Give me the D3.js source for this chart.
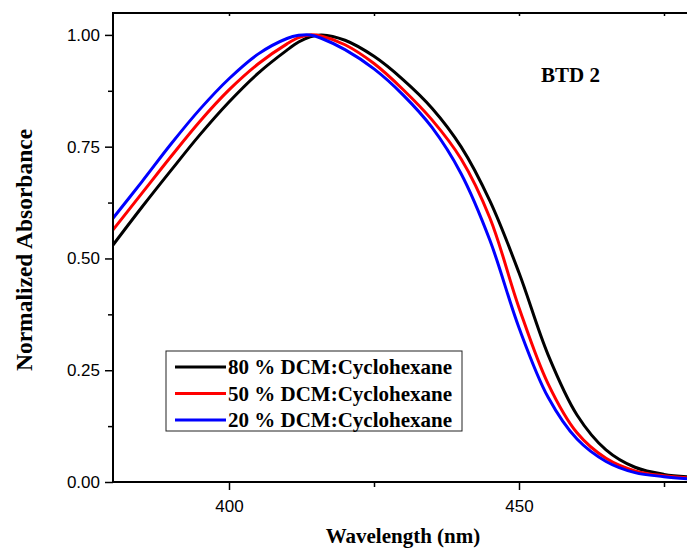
<!DOCTYPE html>
<html>
<head>
<meta charset="utf-8">
<script src="https://cdn.jsdelivr.net/npm/d3@7"></script>
<style>
  body { margin: 0; background: #fff; }
  svg { display: block; }
  .tick-label { font-family: "Liberation Sans", Arial, sans-serif; font-size: 17px; fill: #000; }
  .title { font-family: "Liberation Serif", "Times New Roman", serif; font-weight: bold; font-size: 21px; fill: #000; }
</style>
</head>
<body>
<svg id="chart" width="687" height="550"></svg>
<script>
/* DATA */
var wavelength = [380, 385, 390, 395, 400, 405, 410, 412, 414, 416, 420, 425, 430, 435, 440, 445, 450, 455, 460, 465, 470, 475, 480];
var dcm80 = [0.530, 0.615, 0.697, 0.777, 0.850, 0.914, 0.966, 0.984, 0.996, 1.000, 0.988, 0.952, 0.900, 0.836, 0.750, 0.628, 0.468, 0.285, 0.150, 0.072, 0.033, 0.017, 0.011];
var dcm50 = [0.564, 0.646, 0.728, 0.807, 0.877, 0.935, 0.980, 0.994, 1.000, 0.997, 0.978, 0.936, 0.878, 0.810, 0.723, 0.590, 0.390, 0.220, 0.110, 0.053, 0.025, 0.014, 0.009];
var dcm20 = [0.590, 0.672, 0.756, 0.834, 0.902, 0.957, 0.992, 0.999, 1.000, 0.992, 0.967, 0.924, 0.866, 0.793, 0.690, 0.540, 0.345, 0.190, 0.096, 0.046, 0.021, 0.012, 0.006];
var seriesNames = ["80 % DCM:Cyclohexane", "50 % DCM:Cyclohexane", "20 % DCM:Cyclohexane"];
var seriesColors = ["#000000", "#ff0000", "#0000ff"];
var yTicks = [0, 0.25, 0.5, 0.75, 1.0];
var yMinor = [0.125, 0.375, 0.625, 0.875];
var xTicks = [400, 450];
var xMinor = [425, 475];

var svg = d3.select('#chart');
var pLeft = 113, pRight = 693, pTop = 13, pBottom = 482;

var x = d3.scaleLinear().domain([380, 480]).range([pLeft, pRight]);
var y = d3.scaleLinear().domain([0, 1.049]).range([pBottom, pTop]);

/* CLIP */
svg.append('defs').append('clipPath').attr('id', 'plotclip')
  .append('rect').attr('x', pLeft).attr('y', pTop).attr('width', pRight - pLeft).attr('height', pBottom - pTop);

/* CURVES */
var line = d3.line()
  .x(function(d){ return x(d[0]); })
  .y(function(d){ return y(d[1]); })
  .curve(d3.curveCatmullRom.alpha(0.5));

[dcm80, dcm50, dcm20].forEach(function(vals, i){
  svg.append('path')
    .datum(d3.zip(wavelength, vals))
    .attr('clip-path', 'url(#plotclip)')
    .attr('fill', 'none')
    .attr('stroke', seriesColors[i])
    .attr('stroke-width', 3)
    .attr('d', line);
});

/* AXES */
var yAxis = d3.axisLeft(y).tickValues(yTicks).tickFormat(d3.format('.2f')).tickSize(8).tickPadding(5);
svg.append('g').attr('transform', 'translate(' + pLeft + ',0)').call(yAxis);
var xAxis = d3.axisBottom(x).tickValues(xTicks).tickFormat(d3.format('d')).tickSize(8).tickPadding(10);
svg.append('g').attr('transform', 'translate(0,' + pBottom + ')').call(xAxis);
svg.append('g').attr('transform', 'translate(' + pLeft + ',0)')
  .call(d3.axisLeft(y).tickValues(yMinor).tickFormat('').tickSize(5));
svg.append('g').attr('transform', 'translate(0,' + pBottom + ')')
  .call(d3.axisBottom(x).tickValues(xMinor).tickFormat('').tickSize(5));
svg.append('g').attr('transform', 'translate(0,' + pTop + ')')
  .call(d3.axisBottom(x).tickValues(xTicks.concat(xMinor)).tickFormat('').tickSize(3));

svg.selectAll('.domain').remove();
svg.selectAll('.tick line').attr('stroke', '#000').attr('stroke-width', 1.5);
svg.selectAll('.tick text').attr('class', 'tick-label');
svg.selectAll('g').attr('font-size', null).attr('font-family', null);

/* FRAME */
svg.append('path')
  .attr('d', 'M' + pLeft + ',' + pBottom + 'V' + pTop + 'H' + pRight + 'V' + pBottom + 'Z')
  .attr('fill', 'none').attr('stroke', '#000').attr('stroke-width', 2);

/* TITLES */
svg.append('text').attr('class', 'title')
  .attr('x', (pLeft + pRight) / 2).attr('y', 543)
  .attr('text-anchor', 'middle').text('Wavelength (nm)');
svg.append('text').attr('class', 'title')
  .attr('transform', 'translate(32,250) rotate(-90)')
  .attr('text-anchor', 'middle').style('font-size', '23.5px').text('Normalized Absorbance');
svg.append('text').attr('class', 'title')
  .attr('x', 541).attr('y', 82).text('BTD 2');

/* LEGEND */
var legend = svg.append('g');
legend.append('rect')
  .attr('x', 166).attr('y', 351).attr('width', 296).attr('height', 80)
  .attr('fill', '#fff').attr('stroke', '#222').attr('stroke-width', 1);
seriesNames.forEach(function(name, i){
  var ly = 367 + i * 26.5;
  legend.append('line')
    .attr('x1', 175).attr('x2', 226).attr('y1', ly).attr('y2', ly)
    .attr('stroke', seriesColors[i]).attr('stroke-width', 3);
  legend.append('text').attr('class', 'title')
    .attr('x', 228).attr('y', ly + 7).text(name);
});
</script>
</body>
</html>
